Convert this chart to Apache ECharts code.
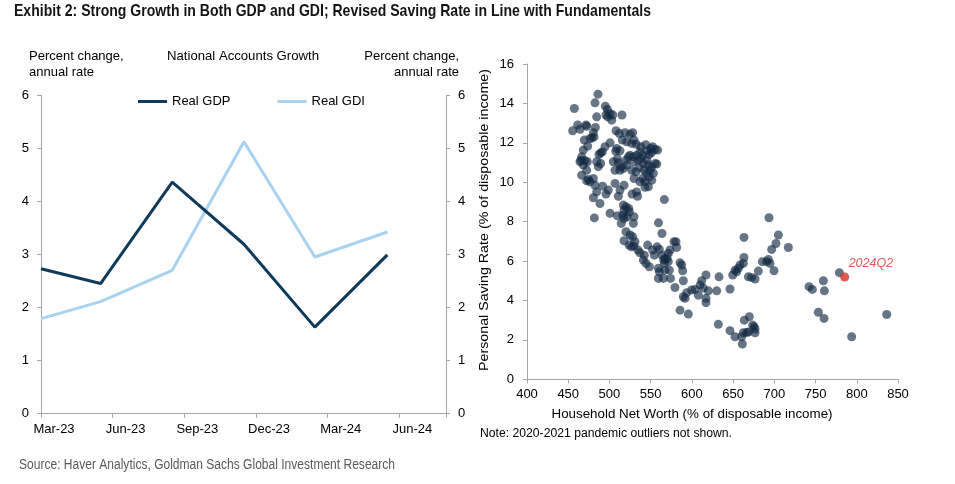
<!DOCTYPE html>
<html><head><meta charset="utf-8">
<script src="https://cdn.jsdelivr.net/npm/echarts@6/dist/echarts.min.js"></script>
<style>html,body{margin:0;padding:0;background:#fff}#c{width:955px;height:484px}</style>
</head><body><div id="c"></div>
<script>
// ---------- data: left panel ----------
const quarterDates = ['2023-03-01', '2023-05-16', '2023-08-16', '2023-11-16', '2024-02-15', '2024-05-16'];
const realGDP = [2.73, 2.45, 4.36, 3.19, 1.63, 2.99];
const realGDI = [1.79, 2.11, 2.70, 5.12, 2.95, 3.42];
const monthTickLabels = ['Mar-23', 'Jun-23', 'Sep-23', 'Dec-23', 'Mar-24', 'Jun-24'];

// ---------- data: right panel ----------
const netWorth = [
457.4,455.4,461.5,464.3,471.6,472.4,482.5,486.1,484.5,482.9,480.5,478.8,476.4,469.5,481.3,473.6,468.3,466.3,465.5,470.4,
473.2,468.3,464.3,472.4,466.3,474.4,472.4,476.4,480.5,482.5,484.5,480.5,488.5,481.7,487.3,489.3,484.5,486.5,489.3,491.4,
494.6,491.8,495.8,498.7,500.7,495.0,497.5,495.8,500.7,504.0,502.7,497.9,515.2,508.0,512.0,518.9,525.0,528.2,515.6,520.9,
527.0,529.8,532.6,508.8,512.8,507.6,509.6,504.7,510.8,513.6,506.8,512.8,516.9,520.1,522.9,525.0,529.0,533.0,537.0,540.3,
535.0,529.8,520.9,527.0,532.2,536.3,541.1,545.2,547.2,542.3,545.2,549.3,551.3,555.4,557.4,552.4,555.3,558.5,550.0,540.3,
537.0,543.1,547.2,551.3,548.4,553.3,529.8,543.1,533.0,527.4,534.1,566.6,517.7,506.8,510.8,512.8,500.7,509.6,516.9,520.1,
517.7,516.1,521.3,517.7,514.4,529.8,529.0,524.2,523.4,520.1,525.0,528.2,531.0,517.7,523.8,526.6,529.8,534.6,537.0,542.3,
546.3,541.1,544.3,548.4,552.4,554.4,557.7,559.5,563.7,563.7,565.8,566.6,569.9,538.0,544.0,546.0,538.5,548.0,551.0,
573.5,578.3,580.7,581.5,585.6,587.6,588.8,574.0,579.5,589.6,589.6,591.7,585.6,595.7,593.7,599.7,603.8,607.8,609.9,611.9,
617.1,613.9,617.1,617.1,620.0,630.1,632.1,632.9,646.2,646.2,652.3,660.4,661.2,662.4,666.5,668.5,663.6,669.7,673.7,675.4,
676.6,676.6,649.5,652.3,654.3,656.3,658.4,662.4,663.2,663.2,668.5,672.5,676.6,680.6,685.5,690.7,692.7,694.8,699.6,696.8,
702.0,704.9,717.0,693.5,742.1,746.1,753.4,759.5,760.3,760.7,778.9,793.8,836.3,
559.3,560.5,559.3,565.4,567.4,572.7,571.4,560.5,567.4,571.4
];
const savingRate = [
13.74,12.61,12.91,12.69,12.91,12.84,14.03,14.47,13.32,12.78,12.51,12.25,12.22,12.14,12.30,11.83,11.63,11.29,11.12,11.09,
11.04,10.87,11.04,10.61,10.36,10.14,10.07,10.02,10.19,9.85,9.51,9.21,8.92,8.19,11.41,11.49,11.04,10.79,10.95,11.54,
11.80,9.80,9.40,9.60,12.00,13.86,13.69,13.41,13.49,13.41,13.15,13.32,13.41,12.61,12.47,12.51,12.44,12.51,12.14,12.05,
11.97,12.14,11.93,11.71,11.60,11.58,11.20,11.04,10.99,10.78,10.61,10.61,10.70,11.12,11.29,11.37,11.29,11.37,11.54,11.37,
11.12,11.04,10.87,10.61,10.53,10.75,10.95,11.12,10.87,10.61,10.45,10.61,10.78,10.95,10.92,11.80,11.66,11.63,11.71,10.19,
10.02,10.02,9.77,10.10,10.27,10.45,10.19,9.74,9.51,9.40,9.29,9.12,9.85,9.94,9.29,9.60,8.42,8.30,8.84,8.75,
8.58,8.33,8.25,8.16,7.91,8.25,7.91,8.50,8.67,7.49,7.32,7.23,6.98,7.03,6.81,6.72,6.76,6.56,6.42,6.30,
6.81,6.05,5.88,5.71,6.56,6.30,6.72,7.94,7.40,6.30,6.05,5.88,6.13,11.80,11.90,11.60,11.20,11.40,11.50,
6.56,6.98,6.98,6.69,5.91,5.80,5.51,5.12,4.66,5.00,4.19,4.11,3.51,3.31,4.39,4.53,4.56,4.27,4.78,5.00,
5.29,4.63,4.11,3.89,4.49,4.49,2.79,5.20,4.58,2.47,2.16,2.16,1.79,2.36,2.38,2.40,3.00,3.18,2.75,2.67,
2.55,2.36,5.29,5.54,5.46,5.63,5.80,5.88,6.18,7.20,5.20,5.17,5.09,5.49,5.97,5.97,6.08,5.88,5.51,6.59,
6.89,7.32,6.69,8.20,4.70,4.56,3.40,5.00,3.09,4.49,5.41,2.16,3.29,
5.63,5.46,5.12,5.12,5.54,5.54,6.39,6.59,6.13,5.97
];
const latestLabel = '2024Q2';
const latestNetWorth = 785.3;
const latestSaving = 5.19;

// ---------- build ----------
function monthsFrom(d) {
  const [y, m, day] = d.split('-').map(Number);
  return (y - 2023) * 12 + (m - 3) + (day - 1) / 30.4;
}
const gdpData = quarterDates.map((d, i) => [monthsFrom(d), realGDP[i]]);
const gdiData = quarterDates.map((d, i) => [monthsFrom(d), realGDI[i]]);
const scatterData = netWorth.map((x, i) => [x, savingRate[i]]);

const FONT = '"Liberation Sans", Arial, sans-serif';
const ctx = document.createElement('canvas').getContext('2d');
function fit(text, font, w) { ctx.font = font; return w / ctx.measureText(text).width; }
function txt(text, x, y, font, fill, w, align, rot) {
  const el = {
    type: 'text', x: x, y: y, silent: true,
    style: { text: text, font: font, fill: fill, align: align || 'left', verticalAlign: 'middle',
             textAlign: align || 'left', textVerticalAlign: 'middle' }
  };
  if (w) el.scaleX = fit(text, font, w);
  if (rot) el.rotation = rot;
  return el;
}
const axisGray = '#a6a6a6';
const lblStyle = { color: '#000', fontSize: 13, fontFamily: FONT };

const chart = echarts.init(document.getElementById('c'), null, { renderer: 'canvas' });
chart.setOption({
  animation: false,
  backgroundColor: '#fff',
  grid: [
    { left: 41, top: 95, width: 405, height: 318.7 },
    { left: 527, top: 64, width: 371, height: 315.3 }
  ],
  legend: {
    data: ['Real GDP', 'Real GDI'], left: 133, top: 90, icon: 'rect',
    itemWidth: 29, itemHeight: 3, itemGap: 47,
    textStyle: { color: '#000', fontSize: 13, fontFamily: FONT }
  },
  xAxis: [
    {
      gridIndex: 0, type: 'value', min: 0, max: 16.95, interval: 3,
      axisLine: { show: true, lineStyle: { color: axisGray, width: 1 } },
      axisTick: { show: true, length: 4, lineStyle: { color: axisGray } },
      splitLine: { show: false },
      axisLabel: {
        margin: 9, ...lblStyle,
        formatter: function (v) {
          const i = Math.round(v / 3);
          if (Math.abs(v - i * 3) > 1e-6 || !monthTickLabels[i]) return '';
          return '{a|' + monthTickLabels[i] + '}';
        },
        rich: { a: { padding: [0, 0, 0, 26], color: '#000', fontSize: 13, fontFamily: FONT } }
      }
    },
    {
      gridIndex: 1, type: 'value', min: 400, max: 850, interval: 50,
      axisLine: { show: true, lineStyle: { color: axisGray, width: 1 } },
      axisTick: { show: true, length: 4, lineStyle: { color: axisGray } },
      splitLine: { show: false },
      axisLabel: { margin: 9, ...lblStyle }
    }
  ],
  yAxis: [
    {
      gridIndex: 0, type: 'value', position: 'left', min: 0, max: 6, interval: 1,
      axisLine: { show: true, lineStyle: { color: axisGray, width: 1 } },
      axisTick: { show: true, length: 4, lineStyle: { color: axisGray } },
      splitLine: { show: false },
      axisLabel: { margin: 12, ...lblStyle }
    },
    {
      gridIndex: 0, type: 'value', position: 'right', min: 0, max: 6, interval: 1,
      axisLine: { show: true, lineStyle: { color: axisGray, width: 1 } },
      axisTick: { show: true, length: 4, lineStyle: { color: axisGray } },
      splitLine: { show: false },
      axisLabel: { margin: 12, ...lblStyle }
    },
    {
      gridIndex: 1, type: 'value', min: 0, max: 16, interval: 2,
      axisLine: { show: true, lineStyle: { color: axisGray, width: 1 } },
      axisTick: { show: true, length: 4, lineStyle: { color: axisGray } },
      splitLine: { show: false },
      axisLabel: { margin: 13, ...lblStyle }
    }
  ],
  series: [
    {
      name: 'Real GDP', type: 'line', xAxisIndex: 0, yAxisIndex: 0, data: gdpData,
      symbol: 'none', lineStyle: { color: '#0f3a5c', width: 3 }, itemStyle: { color: '#0f3a5c' }, z: 3
    },
    {
      name: 'Real GDI', type: 'line', xAxisIndex: 0, yAxisIndex: 0, data: gdiData,
      symbol: 'none', lineStyle: { color: '#a9d2f1', width: 3 }, itemStyle: { color: '#a9d2f1' }, z: 2
    },
    {
      type: 'scatter', xAxisIndex: 1, yAxisIndex: 2, data: scatterData,
      symbolSize: 9, itemStyle: { color: 'rgba(17,40,66,0.8)' }
    },
    {
      type: 'scatter', xAxisIndex: 1, yAxisIndex: 2, data: [[latestNetWorth, latestSaving]],
      symbolSize: 9, itemStyle: { color: '#d2302c' }, z: 5,
      label: {
        show: true, formatter: latestLabel, position: [8.5, -8.8], align: 'left', verticalAlign: 'middle',
        color: '#d2302c', fontStyle: 'italic', fontSize: 12.5, fontFamily: FONT
      }
    }
  ],
  graphic: [
    txt('Exhibit 2: Strong Growth in Both GDP and GDI; Revised Saving Rate in Line with Fundamentals',
        14, 11.5, 'bold 17px ' + FONT, '#141414', 637),
    txt('Percent change,', 29, 56, '13px ' + FONT, '#000'),
    txt('annual rate', 29, 72, '13px ' + FONT, '#000'),
    txt('National Accounts Growth', 167, 56, '13px ' + FONT, '#000', 152),
    txt('Percent change,', 459, 56, '13px ' + FONT, '#000', null, 'right'),
    txt('annual rate', 459, 72, '13px ' + FONT, '#000', null, 'right'),
    txt('Personal Saving Rate (% of disposable income)', 484, 220, '13px ' + FONT, '#000', 302, 'center', Math.PI / 2),
    txt('Household Net Worth (% of disposable income)', 692, 414, '13px ' + FONT, '#000', 281, 'center'),
    txt('Note: 2020-2021 pandemic outliers not shown.', 480, 433.5, '12px ' + FONT, '#000', 252),
    txt('Source: Haver Analytics, Goldman Sachs Global Investment Research', 19, 465, '14px ' + FONT, '#595959', 376)
  ]
});
</script>
</body></html>
